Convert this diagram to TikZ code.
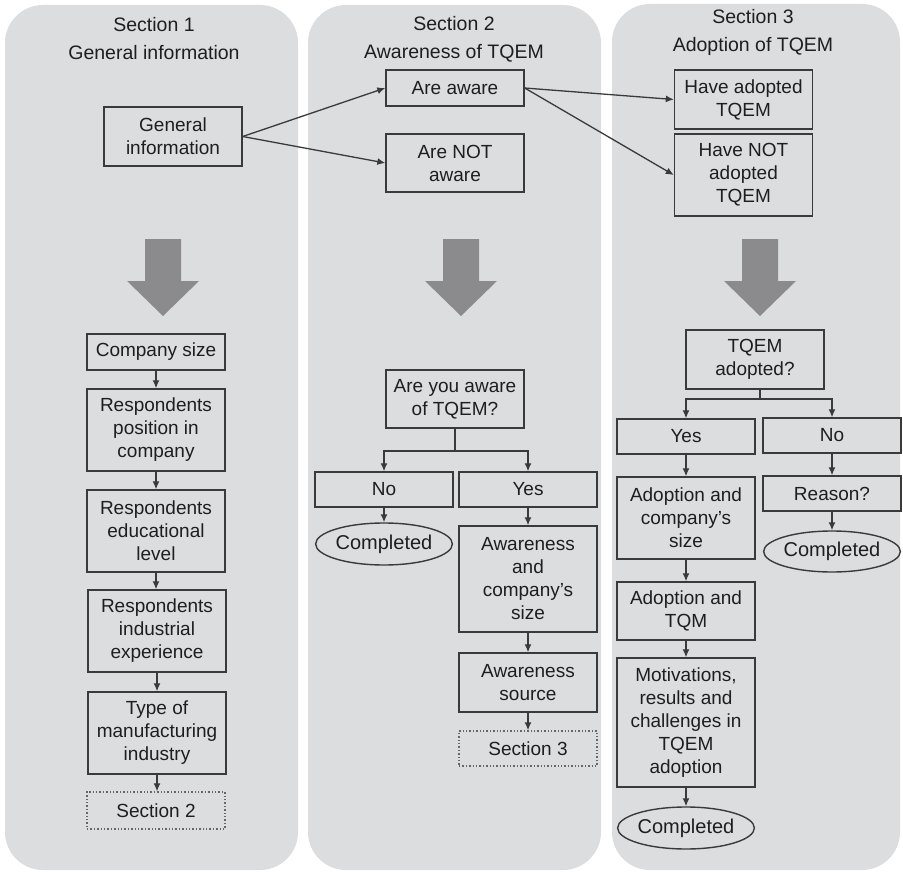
\documentclass[tikz,border=0pt]{standalone}
\usepackage{fontspec}
\setmainfont{Liberation Sans}
\usetikzlibrary{shapes,arrows,arrows.meta}
\definecolor{panelgray}{HTML}{DCDDDF}
\definecolor{linegray}{HTML}{3A3A3A}
\definecolor{arrowgray}{HTML}{8B8B8D}
\definecolor{textgray}{HTML}{1E1E1E}
\tikzset{
	panel/.style    = {fill=panelgray, rounded corners=38pt},
	box/.style      = {draw=linegray, line width=1.4pt, rectangle, align=center,
		inner sep=0pt, minimum width=138pt},
	ending/.style   = {draw=linegray, line width=1.4pt, ellipse, inner sep=0pt,
		minimum width=111pt, minimum height=42pt, font=\fontsize{20}{23}\selectfont},
	jump/.style     = {box, dotted, draw=gray!80!black}, % link to next section
	title/.style    = {align=center, font=\fontsize{19.5}{28}\selectfont},
	bigarrow/.style = {fill=arrowgray}
}
\newcommand{\bigdown}[1]{\fill[bigarrow] ({#1-18},239) -- ({#1+18},239) -- ({#1+18},281)
	-- ({#1+36},281) -- (#1,316) -- ({#1-36},281) -- ({#1-18},281) -- cycle;}

\begin{document}
\begin{tikzpicture}[x=1pt, y=-1pt, >={Latex[length=8pt,width=7pt]}, line width=1.3pt,
	color=linegray, text=textgray, font=\fontsize{19}{23}\selectfont]
\useasboundingbox (0,0) rectangle (903,872);
\fill[panel] (5,5) rectangle (298,870);
\fill[panel] (308,5) rectangle (601,870);
\fill[panel] (612,4) rectangle (900,870);
\bigdown{163}
\bigdown{461}
\bigdown{760}

\draw
node at (154,39) [title] (t1) {Section 1\\General information}
node at (454,39) [title] (t2) {Section 2\\Awareness of TQEM}
node at (753,32) [title] (t3) {Section 3\\Adoption of TQEM}
node at (173,136.5) [box, minimum height=59pt] (gi) {General\\information}
node at (455,88) [box, minimum height=36pt] (aa) {Are aware}
node at (455,163) [box, minimum height=58pt] (ana) {Are NOT\\aware}
node at (743.5,99.5) [box, minimum height=59pt] (ha) {Have adopted\\TQEM}
node at (743.5,175) [box, minimum height=82pt] (hna) {Have NOT\\adopted\\TQEM};

% section 1
\draw
node at (156,352) [box, minimum height=36pt] (cs) {Company size}
node at (156,430) [box, minimum height=82pt] (rp) {Respondents\\position in\\company}
node at (156,531) [box, minimum height=82pt] (re) {Respondents\\educational\\level}
node at (157,631) [box, minimum height=82pt] (ri) {Respondents\\industrial\\experience}
node at (157,733) [box, minimum height=82pt] (tm) {Type of\\manufacturing\\industry}
node at (156,810.5) [jump, minimum height=37pt] (s2) {Section 2};

% section 2
\draw
node at (455,399) [box, minimum height=58pt] (aq) {Are you aware\\of TQEM?}
node at (384,489.5) [box, minimum height=35pt] (no) {No}
node at (528,489.5) [box, minimum height=35pt] (yes) {Yes}
node at (384,544) [ending] (c2) {Completed}
node at (528,579) [box, minimum height=106pt] (ac) {Awareness\\and\\company’s\\size}
node at (528,682.5) [box, minimum height=59pt] (as) {Awareness\\source}
node at (528,748.5) [jump, minimum height=35pt] (s3) {Section 3};

% section 3
\draw
node at (755,359.5) [box, minimum height=59pt] (tq) {TQEM\\adopted?}
node at (686,436.5) [box, minimum height=35pt] (y3) {Yes}
node at (832,435.5) [box, minimum height=35pt] (n3) {No}
node at (686,518) [box, minimum height=82pt] (acs) {Adoption and\\company’s\\size}
node at (832,493.5) [box, minimum height=35pt] (rs) {Reason?}
node at (832,551.5) [ending, minimum width=110pt, minimum height=41pt] (c3r) {Completed}
node at (686,611) [box, minimum height=58pt] (at) {Adoption and\\TQM}
node at (686,722.5) [box, minimum height=129pt] (mr) {Motivations,\\results and\\challenges in\\TQEM\\adoption}
node at (686,828) [ending] (c3) {Completed};

\coordinate (sp2) at (455,451);
\coordinate (sp3) at (760,399);

\draw[->](gi.east)--(aa.west);
\draw[->](gi.east)--(ana.west);
\draw[->](aa.east)--(ha.west);
\draw[->](aa.east)--(hna.west);

\draw[->](cs)--(rp);
\draw[->](rp)--(re);
\draw[->](re.south)--(re.south|-ri.north);
\draw[->](ri.south)--(ri.south|-tm.north);
\draw[->](tm.south)--(tm.south|-s2.north);

\draw(aq)--(sp2);
\draw[->](sp2)-|(no);
\draw[->](sp2)-|(yes);
\draw[->](no)--(c2);
\draw[->](yes)--(ac);
\draw[->](ac)--(as);
\draw[->](as)--(s3);

\draw(tq.south-|sp3)--(sp3);
\draw[->](sp3)-|(y3);
\draw[->](sp3)-|(n3);
\draw[->](y3)--(acs);
\draw[->](acs)--(at);
\draw[->](at)--(mr);
\draw[->](mr)--(c3);
\draw[->](n3)--(rs);
\draw[->](rs)--(c3r);
\end{tikzpicture}
\end{document}
